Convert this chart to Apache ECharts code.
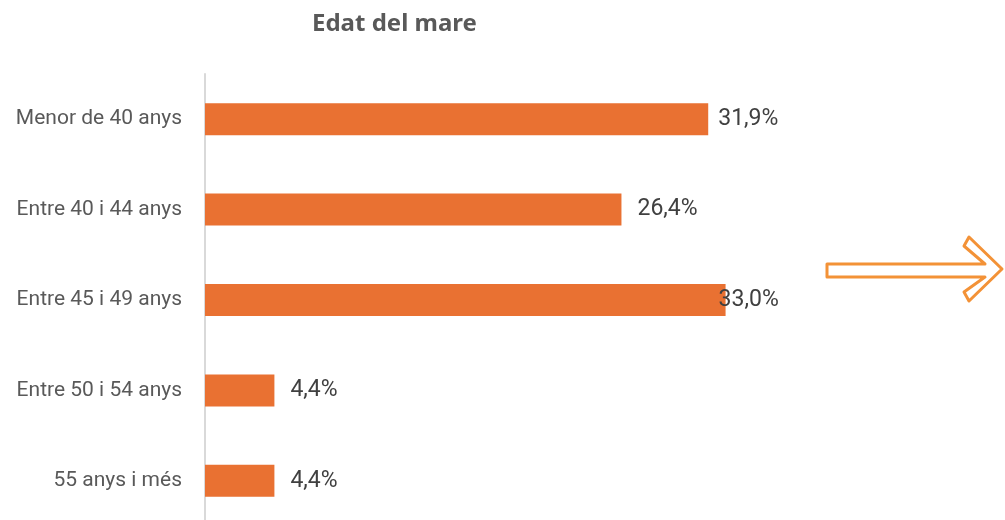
<!DOCTYPE html>
<html>
<head>
<meta charset="utf-8">
<script src="https://cdn.jsdelivr.net/npm/echarts@6/dist/echarts.min.js"></script>
<style>
  html, body { margin: 0; padding: 0; background: #fff; }
  #chart { width: 1005px; height: 520px; }
</style>
</head>
<body>
<div id="chart"></div>
<script>
// dades de la gràfica
const categories = ['Menor de 40 anys', 'Entre 40 i 44 anys', 'Entre 45 i 49 anys', 'Entre 50 i 54 anys', '55 anys i més']
const percentages = [31.9, 26.4, 33.0, 4.4, 4.4]

const chart = echarts.init(document.getElementById('chart'))

// Excel posa les etiquetes una mica diferent a cada barra
const labelGap = { 0: 10, 2: -7 }

const option = {
  animation: false,
  title: {
    text: 'Edat del mare',
    left: 307,
    top: 7,
    textStyle: {
      fontFamily: 'Noto Sans',
      fontWeight: 'bold',
      fontSize: 24,
      color: '#595959'
    }
  },
  grid: {
    left: 205,
    top: 74,
    width: 631,
    height: 452,
    outerBoundsMode: 'none'
  },
  xAxis: {
    type: 'value',
    min: 0,
    max: 40,
    show: false
  },
  yAxis: {
    type: 'category',
    data: categories,
    inverse: true,
    axisLine: { show: true, lineStyle: { color: '#d9d9d9', width: 2 } },
    axisTick: { show: false },
    axisLabel: {
      margin: 23,
      color: '#595959',
      fontFamily: 'Roboto',
      fontSize: 21
    }
  },
  series: [
    {
      type: 'bar',
      barWidth: 32,
      data: percentages.map((v, i) => ({
        value: v,
        label: { distance: labelGap[i] !== undefined ? labelGap[i] : 16 }
      })),
      itemStyle: { color: '#E97132' },
      label: {
        show: true,
        position: 'right',
        color: '#404040',
        fontFamily: 'Roboto',
        fontSize: 23,
        formatter: (p) => p.value.toFixed(1).replace('.', ',') + '%'
      }
    }
  ],
  graphic: [
    {
      // fletxa decorativa de la dreta
      type: 'polygon',
      shape: {
        points: [
          [827, 264], [985, 264], [964, 246], [969, 237], [1002, 269],
          [969, 301], [964, 292], [985, 277], [827, 277]
        ]
      },
      style: {
        fill: 'none',
        stroke: '#F39237',
        lineWidth: 3,
        lineJoin: 'round'
      }
    }
  ]
}

chart.setOption(option)
</script>
</body>
</html>
